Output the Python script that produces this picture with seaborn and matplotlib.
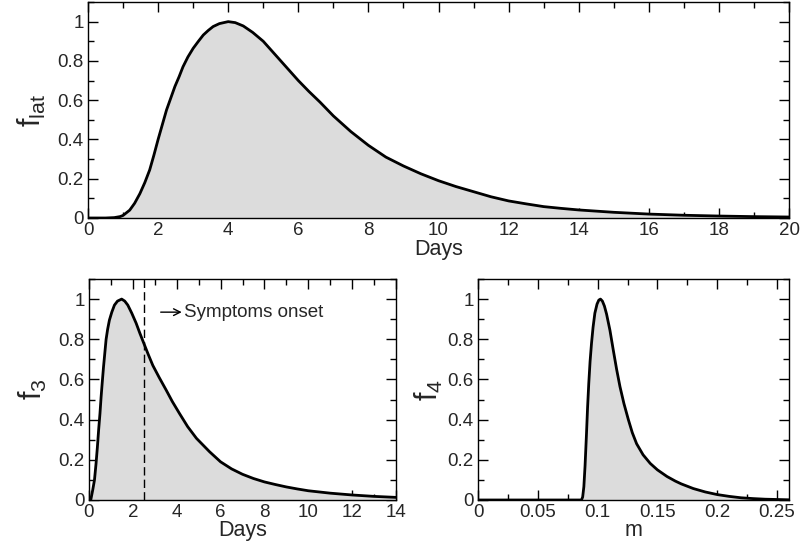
import matplotlib
matplotlib.use("Agg")
import matplotlib.pyplot as plt
from matplotlib.ticker import MultipleLocator, FuncFormatter
import seaborn as sns
import pandas as pd

# ---- data ----
days_lat = [0, 0.5, 0.75, 0.91, 1.0, 1.19, 1.33, 1.48, 1.62, 1.76, 1.88, 2.0, 2.12, 2.24,
            2.36, 2.48, 2.6, 2.71, 2.85, 3.0, 3.15, 3.29, 3.43, 3.57, 3.75, 4.0, 4.2, 4.43,
            4.7, 5.0, 5.25, 5.5, 5.75, 6.0, 6.3, 6.62, 7.0, 7.5, 8.0, 8.5, 9.0, 9.5, 10,
            10.5, 11, 11.5, 12, 12.5, 13, 13.5, 14, 15, 16, 17, 18, 19, 20]
f_lat = [0, 0, 0.002, 0.007, 0.013, 0.04, 0.075, 0.124, 0.18, 0.245, 0.32, 0.40, 0.475, 0.55,
         0.61, 0.67, 0.72, 0.77, 0.82, 0.864, 0.90, 0.932, 0.955, 0.975, 0.99, 1.0, 0.995, 0.978,
         0.945, 0.90, 0.85, 0.80, 0.75, 0.70, 0.645, 0.59, 0.52, 0.44, 0.37, 0.31, 0.265, 0.225, 0.19,
         0.16, 0.134, 0.108, 0.087, 0.072, 0.058, 0.049, 0.041, 0.029, 0.02, 0.014, 0.01, 0.007, 0.005]

days_3 = [0, 0.08, 0.17, 0.25, 0.32, 0.38, 0.44, 0.5, 0.55, 0.6, 0.66, 0.72, 0.78, 0.85,
          0.93, 1.04, 1.16, 1.3, 1.49, 1.63, 1.77, 1.95, 2.15, 2.32, 2.5, 2.7, 2.91, 3.2,
          3.52, 3.8, 4.13, 4.5, 4.9, 5.5, 6.0, 6.5, 7.0, 7.5, 8, 8.5, 9, 9.5, 10, 11, 12, 13, 14]
f_3 = [0, 0, 0.05, 0.1, 0.18, 0.26, 0.35, 0.43, 0.51, 0.58, 0.66, 0.73, 0.80, 0.85,
       0.895, 0.935, 0.97, 0.99, 1.0, 0.99, 0.97, 0.93, 0.88, 0.83, 0.78, 0.725, 0.67, 0.61,
       0.547, 0.49, 0.43, 0.365, 0.307, 0.24, 0.19, 0.155, 0.128, 0.107, 0.09, 0.077, 0.065,
       0.055, 0.046, 0.034, 0.025, 0.018, 0.013]

m_vals = [0, 0.0865, 0.0875, 0.0885, 0.0895, 0.0907, 0.0916, 0.0926, 0.0937, 0.0949, 0.0962,
          0.0977, 0.0995, 0.101, 0.1024, 0.104, 0.1057, 0.1075, 0.1103, 0.1131, 0.1159, 0.1187,
          0.122, 0.1257, 0.129, 0.1326, 0.138, 0.144, 0.15, 0.158, 0.165, 0.17, 0.18, 0.19,
          0.2, 0.21, 0.22, 0.23, 0.24, 0.26]
f_4 = [0, 0, 0.015, 0.066, 0.17, 0.33, 0.46, 0.58, 0.69, 0.78, 0.86,
       0.93, 0.975, 0.995, 1.0, 0.99, 0.965, 0.925, 0.845, 0.746, 0.65, 0.564,
       0.48, 0.40, 0.335, 0.28, 0.225, 0.182, 0.15, 0.117, 0.094, 0.08, 0.057, 0.04,
       0.027, 0.018, 0.011, 0.007, 0.004, 0.001]

onset_day = 2.5
onset_label = "Symptoms onset"
onset_arrow = (3.27, 4.23)   # arrow start / end (days)
onset_y = 0.935

# ---- style ----
sns.set_theme(style="ticks")
plt.rcParams['font.family'] = ['Liberation Sans', 'DejaVu Sans']
plt.rcParams['mathtext.fontset'] = 'custom'
plt.rcParams['mathtext.rm'] = 'Liberation Sans'
plt.rcParams['mathtext.it'] = 'Liberation Sans'

W, H = 800, 553
fig = plt.figure(figsize=(W / 100, H / 100), dpi=100)

def box(l, r, b, t):
    return [l / W, 1 - b / H, (r - l) / W, (b - t) / H]

ax_top = fig.add_axes(box(88, 789, 218, 2))
ax_bl = fig.add_axes(box(89, 396, 500, 279))
ax_br = fig.add_axes(box(478, 789, 500, 279))

FILL = '#dcdcdc'

def fmt(v, pos):
    return '%g' % round(v, 3)

def style(ax, xmaj, xmin, xmax):
    ax.set_ylim(0, 1.1)
    ax.set_xlim(0, xmax)
    ax.xaxis.set_major_locator(MultipleLocator(xmaj))
    ax.xaxis.set_minor_locator(MultipleLocator(xmin))
    ax.yaxis.set_major_locator(MultipleLocator(0.2))
    ax.yaxis.set_minor_locator(MultipleLocator(0.1))
    ax.xaxis.set_major_formatter(FuncFormatter(fmt))
    ax.yaxis.set_major_formatter(FuncFormatter(fmt))
    ax.tick_params(which='both', direction='in', top=True, right=True,
                   color='black', width=1, labelsize=13.5, pad=3)
    ax.tick_params(which='major', length=7)
    ax.tick_params(which='minor', length=4.5)
    for s in ax.spines.values():
        s.set_visible(True)
        s.set_color('black')
        s.set_linewidth(1)

def draw(ax, x, y):
    df = pd.DataFrame({'x': x, 'y': y})
    ax.fill_between(df['x'], 0, df['y'], color=FILL, lw=0, zorder=1)
    sns.lineplot(data=df, x='x', y='y', ax=ax, color='black', lw=2, zorder=3)

draw(ax_top, days_lat, f_lat)
style(ax_top, 2, 1, 20)
ax_top.set_xlabel('Days', fontsize=15.5, labelpad=0)
ax_top.set_ylabel(r'$\mathregular{f_{lat}}$', fontsize=22, labelpad=7)

draw(ax_bl, days_3, f_3)
style(ax_bl, 2, 1, 14)
ax_bl.axvline(onset_day, color='black', lw=1, ls=(0, (6, 3)), zorder=2)
ax_bl.annotate('', xy=(onset_arrow[1], onset_y), xytext=(onset_arrow[0], onset_y),
               arrowprops=dict(arrowstyle='->', lw=1, color='black',
                               shrinkA=0, shrinkB=0, mutation_scale=12))
ax_bl.text(onset_arrow[1] + 0.12, onset_y, onset_label, fontsize=13.5, va='center', ha='left')
ax_bl.set_xlabel('Days', fontsize=15.5, labelpad=-1)
ax_bl.set_ylabel(r'$\mathregular{f_{3}}$', fontsize=22, labelpad=7)

draw(ax_br, m_vals, f_4)
style(ax_br, 0.05, 0.025, 0.26)
ax_br.set_xlabel('m', fontsize=15.5, labelpad=-1)
ax_br.set_ylabel(r'$\mathregular{f_{4}}$', fontsize=22, labelpad=2)

fig.savefig('out.png', dpi=100)
